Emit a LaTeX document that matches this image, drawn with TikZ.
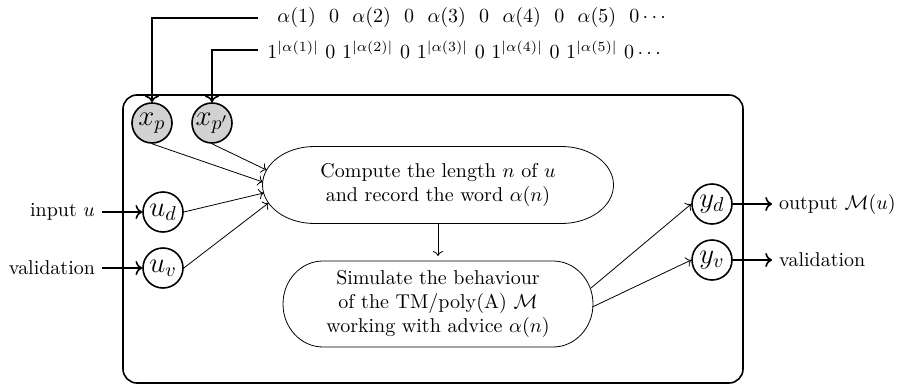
\documentclass[tikz,border=0pt]{standalone}
\usetikzlibrary{shapes.misc,arrows.meta}
\begin{document}
\begin{tikzpicture}[x=0.5pt,y=-0.5pt,
  var/.style={circle,draw,thick,minimum size=20pt,inner sep=0pt,font=\Large},
  given/.style={var,fill=gray!35},
  proc/.style={rectangle,align=center,outer sep=0pt},
  flow/.style={->},
  io/.style={->,thick}]
\useasboundingbox (0,0) rectangle (897,385);
\draw[thick,rounded corners=7pt] (123,95) rectangle (743,383);
\node[given] (xp) at (152,123) {$x_p$};
\node[given] (xpp) at (212,123) {$x_{p'}$};
\node[var] (ud) at (163,212) {$u_d$};
\node[var] (uv) at (163,268) {$u_v$};
\node[var] (yd) at (712,204) {$y_d$};
\node[var] (yv) at (712,260) {$y_v$};
\node[proc,minimum width=175.5pt,minimum height=38.5pt] (c1) at (438,185)
  {Compute the length $n$ of $u$\\and record the word $\alpha(n)$};
\draw ([xshift=26pt]c1.north west) -- ([xshift=-26pt]c1.north east)
  arc[start angle=90,end angle=-90,x radius=26pt,y radius=19.25pt]
  -- ([xshift=26pt]c1.south west)
  arc[start angle=270,end angle=90,x radius=26pt,y radius=19.25pt] -- cycle;
\node[proc,minimum width=155pt,minimum height=43pt] (c2) at (438,304)
  {Simulate the behaviour\\of the TM/poly(A) $\mathcal{M}$\\working with advice $\alpha(n)$};
\draw ([xshift=20pt]c2.north west) -- ([xshift=-20pt]c2.north east)
  arc[start angle=90,end angle=-90,x radius=20pt,y radius=21.5pt]
  -- ([xshift=20pt]c2.south west)
  arc[start angle=270,end angle=90,x radius=20pt,y radius=21.5pt] -- cycle;
\node[anchor=east] (inu) at (102,212) {input $u$};
\node[anchor=east] (inv) at (102,268) {validation};
\node[anchor=west] (outm) at (772,204) {output $\mathcal{M}(u)$};
\node[anchor=west] (outv) at (772,260) {validation};
\node[anchor=west,inner xsep=9.5pt] (s1) at (258,18)
  {$\alpha(1)\ \ 0\ \ \alpha(2)\ \ 0\ \ \alpha(3)\ \ 0\ \ \alpha(4)\ \ 0\ \ \alpha(5)\ \ 0\cdots$};
\node[anchor=west,inner xsep=4.5pt] (s2) at (258,50)
  {$1^{|\alpha(1)|}\ 0\ 1^{|\alpha(2)|}\ 0\ 1^{|\alpha(3)|}\ 0\ 1^{|\alpha(4)|}\ 0\ 1^{|\alpha(5)|}\ 0\cdots$};
\draw[io] (s1.west) -| (xp.north);
\draw[io] (s2.west) -| (xpp.north);
\draw[flow] (xp.south) -- ([xshift=0.2pt,yshift=1.5pt]c1.west);
\draw[flow] (xpp.south) -- ([xshift=2pt,yshift=7.5pt]c1.west);
\draw[flow] (ud.east) -- ([xshift=0.6pt,yshift=-4pt]c1.west);
\draw[flow] (uv.east) -- ([xshift=3pt,yshift=-9pt]c1.west);
\draw[flow,shorten >=2.5pt] (c1.south) -- (c2.north);
\draw[flow] ([xshift=-1pt,yshift=8pt]c2.east) -- (yd.west);
\draw[flow] ([xshift=-0.3pt,yshift=-1.5pt]c2.east) -- (yv.west);
\draw[io] (inu) -- (ud);
\draw[io] (inv) -- (uv);
\draw[io] (yd) -- (outm);
\draw[io] (yv) -- (outv);
\end{tikzpicture}
\end{document}
